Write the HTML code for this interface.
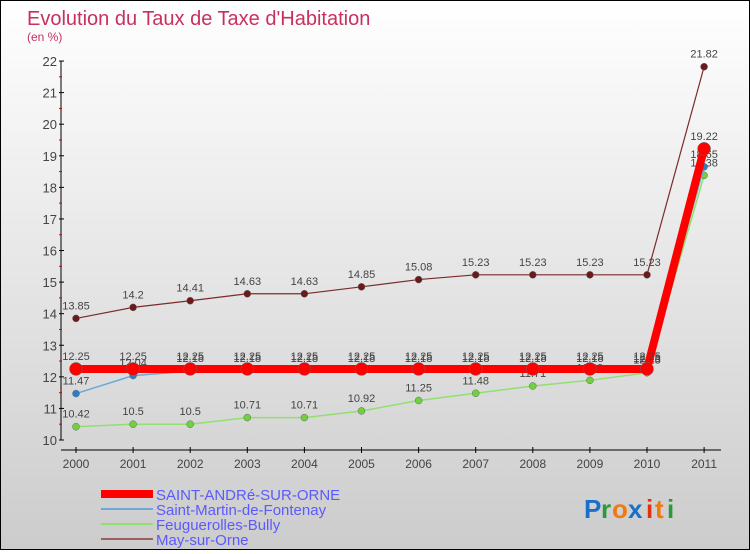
<!DOCTYPE html>
<html><head><meta charset="utf-8"><style>
body{margin:0;width:750px;height:550px;overflow:hidden}
#c{position:relative;width:748px;height:548px;border:1px solid #000;background:linear-gradient(#fff,#ccc);font-family:"Liberation Sans",sans-serif}
</style></head><body>
<div id="c">
<svg width="748" height="548" id="s">
<text x="26" y="24" font-size="20" fill="#c8305e">Evolution du Taux de Taxe d'Habitation</text>
<text x="26" y="40" font-size="12" fill="#c8305e">(en %)</text>
<g id="ax"></g><g id="series"></g>
<g id="legend"></g>
<g font-size="26" font-weight="bold">
<text x="583" y="517" fill="#1a6fc8">P</text><text x="600" y="517" fill="#2a9a3a">r</text><text x="611" y="517" fill="#f07a10">o</text><text x="627" y="517" fill="#1a6fc8">x</text><text x="645" y="517" fill="#e03010">i</text><text x="654" y="517" fill="#f07a10">t</text><text x="666" y="517" fill="#2a9a3a">i</text>
</g>
</svg></div>
<script>
const years=[2000,2001,2002,2003,2004,2005,2006,2007,2008,2009,2010,2011];
const yTicks=[10,11,12,13,14,15,16,17,18,19,20,21,22];
const andre=[12.25,12.25,12.25,12.25,12.25,12.25,12.25,12.25,12.25,12.25,12.25,19.22];
const martin=[11.47,12.04,12.18,12.18,12.18,12.18,12.18,12.18,12.18,12.18,12.18,18.65];
const feug=[10.42,10.5,10.5,10.71,10.71,10.92,11.25,11.48,11.71,11.89,12.13,18.38];
const may=[13.85,14.2,14.41,14.63,14.63,14.85,15.08,15.23,15.23,15.23,15.23,21.82];
const names=["SAINT-ANDRé-SUR-ORNE","Saint-Martin-de-Fontenay","Feuguerolles-Bully","May-sur-Orne"];
const NS="http://www.w3.org/2000/svg";
const X=i=>75+i*57.1, Y=v=>439-(v-10)*31.58;
function mk(t,a,p){const e=document.createElementNS(NS,t);for(const k in a)e.setAttribute(k,a[k]);p.appendChild(e);return e;}
const ax=document.getElementById('ax');
let l=mk('line',{x1:60,y1:Y(22),x2:60,y2:Y(10),stroke:'#000'},ax);

l=mk('line',{x1:60,y1:449,x2:720,y2:449,stroke:'#000'},ax);

yTicks.forEach(v=>{mk('line',{x1:58,x2:63,y1:Y(v),y2:Y(v),stroke:'#000'},ax);
 if(v<22)mk('line',{x1:58,x2:61,y1:Y(v+0.5),y2:Y(v+0.5),stroke:'#d00'},ax);
 const t=mk('text',{x:56,y:Y(v)+5,'text-anchor':'end','font-size':13,fill:'#444'},ax);t.textContent=v;
 });
years.forEach((y,i)=>{mk('line',{x1:X(i),x2:X(i),y1:446,y2:452,stroke:'#000'},ax);
 const t=mk('text',{x:X(i),y:467,'text-anchor':'middle','font-size':12,fill:'#444'},ax);t.textContent=y;
 });
const sg=document.getElementById('series');
function series(d,col,w,r,name,dot){const g=mk('g',{},sg);
 
 mk('polyline',{points:d.map((v,i)=>X(i)+','+Y(v)).join(' '),fill:'none',stroke:col,'stroke-width':w},g);
 d.forEach((v,i)=>{const c=mk('circle',{cx:X(i),cy:Y(v),r:r,fill:dot,stroke:'#666','stroke-width':0.5},g);
  
  const t=mk('text',{x:X(i),y:Y(v)-9,'text-anchor':'middle','font-size':11,fill:'#444'},g);t.textContent=v;});}
series(may,'#7a2b2b',1.2,3.5,'series-may','#6a1a1a');
series(feug,'#90e070',1.5,3.5,'series-feuguerolles','#70d040');
series(martin,'#6aa8d8',1.5,3.5,'series-saint-martin','#2a80c8');
series(andre,'#ff0000',8,6.5,'series-saint-andre','#ff0000');
const lg=document.getElementById('legend');
const cols=['#ff0000','#6aa8d8','#90e070','#9a6060'],ws=[8,2,2,2];
names.forEach((n,i)=>{const y=493+i*15;mk('line',{x1:100,x2:152,y1:y,y2:y,stroke:cols[i],'stroke-width':ws[i]},lg);
 const t=mk('text',{x:155,y:y+6,'font-size':15,fill:'#5a5aff'},lg);t.textContent=n;
 });
</script></body></html>
